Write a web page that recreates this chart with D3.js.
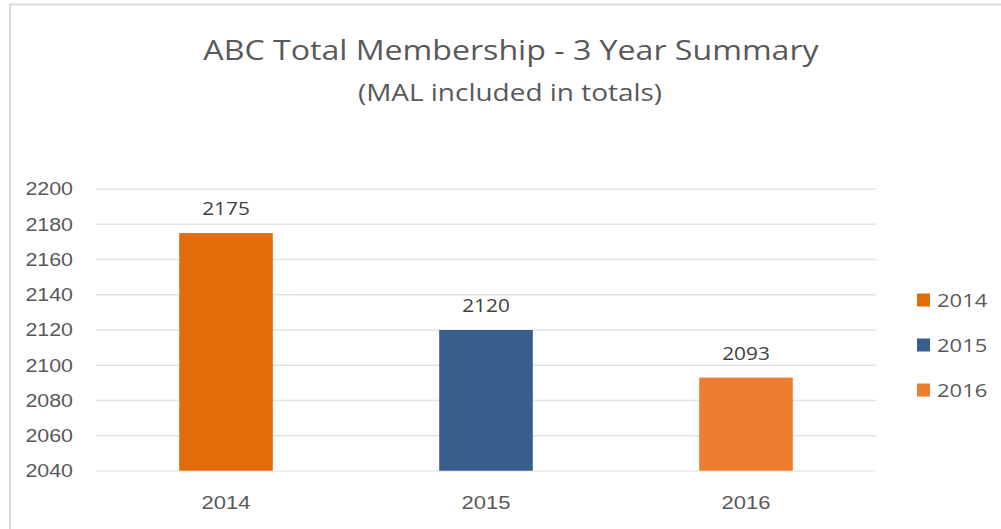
<!DOCTYPE html>
<html>
<head>
<meta charset="utf-8">
<script src="https://cdn.jsdelivr.net/npm/d3@7"></script>
<style>
  body { margin: 0; background: #fff; }
  svg { display: block; font-family: "Open Sans", "Noto Sans", sans-serif; }
</style>
</head>
<body>
<svg id="chart" width="1001" height="529"></svg>
<script>
// chart data
const years = ['2014', '2015', '2016'];
const members = [2175, 2120, 2093];
const yTicks = [2040, 2060, 2080, 2100, 2120, 2140, 2160, 2180, 2200];
const barColors = ['#e36c0a', '#375e8d', '#ed7d31'];

const width = 1001;
const height = 529;
const margin = { left: 96, top: 189, right: 125, bottom: 58 };
const stretch = 1.19; // the source text is a bit wide, stretch it sideways

const svg = d3.select('#chart');

// chart frame
svg.append('path')
  .attr('d', `M10,${height} L10,4.5 L${width},4.5`)
  .attr('fill', 'none')
  .attr('stroke', '#d9d9d9')
  .attr('stroke-width', 2);

// scales
let x = d3.scaleBand()
  .domain(years)
  .range([margin.left, width - margin.right])
  .paddingInner(0.64)
  .paddingOuter(0.32);

let y = d3.scaleLinear()
  .domain([2040, 2200])
  .range([height - margin.bottom, margin.top]);

// gridlines
svg.append('g')
  .selectAll('line')
  .data(yTicks)
  .enter()
  .append('line')
  .attr('x1', margin.left)
  .attr('x2', width - margin.right)
  .attr('y1', d => y(d))
  .attr('y2', d => y(d))
  .attr('stroke', '#e3e3e3')
  .attr('stroke-width', 1.5);

// y axis labels
let yAxis = svg.append('g')
  .attr('transform', `translate(${margin.left - 23},0)`)
  .call(d3.axisLeft(y).tickValues(yTicks).tickFormat(d3.format('d')).tickSize(0).tickPadding(0));
yAxis.select('.domain').remove();
yAxis.selectAll('text')
  .attr('fill', '#595959')
  .attr('transform', `scale(${stretch},1)`)
  .style('font-size', '18px');

// bars
svg.append('g')
  .selectAll('rect')
  .data(members)
  .enter()
  .append('rect')
  .attr('x', (d, i) => x(years[i]))
  .attr('y', d => y(d))
  .attr('width', x.bandwidth())
  .attr('height', d => y(2040) - y(d))
  .attr('fill', (d, i) => barColors[i]);

// baseline drawn over the bars, lightly
svg.append('line')
  .attr('x1', margin.left)
  .attr('x2', width - margin.right)
  .attr('y1', y(2040))
  .attr('y2', y(2040))
  .attr('stroke', '#ffffff')
  .attr('stroke-opacity', 0.25)
  .attr('stroke-width', 2);

// data labels
svg.append('g')
  .selectAll('text')
  .data(members)
  .enter()
  .append('text')
  .attr('transform', (d, i) => `translate(${x(years[i]) + x.bandwidth() / 2},${y(d) - 18}) scale(${stretch},1)`)
  .attr('text-anchor', 'middle')
  .attr('fill', '#404040')
  .style('font-size', '17.5px')
  .text(d => d);

// x axis labels
let xAxis = svg.append('g')
  .attr('transform', `translate(0,${y(2040) + 38})`)
  .call(d3.axisBottom(x).tickSize(0).tickPadding(0));
xAxis.select('.domain').remove();
xAxis.selectAll('text')
  .attr('dy', 0)
  .attr('fill', '#595959')
  .attr('transform', `scale(${stretch},1)`)
  .style('font-size', '18.5px');

// title
svg.append('text')
  .attr('transform', `translate(511,60) scale(${stretch},1)`)
  .attr('text-anchor', 'middle')
  .attr('fill', '#595959')
  .style('font-size', '27px')
  .text('ABC Total Membership - 3 Year Summary');

svg.append('text')
  .attr('transform', `translate(510,101) scale(${stretch},1)`)
  .attr('text-anchor', 'middle')
  .attr('fill', '#595959')
  .style('font-size', '23.5px')
  .text('(MAL included in totals)');

// legend
let legend = svg.append('g')
  .selectAll('g')
  .data(years)
  .enter()
  .append('g')
  .attr('transform', (d, i) => `translate(917,${300 + i * 45})`);

legend.append('rect')
  .attr('x', 0)
  .attr('y', -6.5)
  .attr('width', 13)
  .attr('height', 13)
  .attr('fill', (d, i) => barColors[i]);

legend.append('text')
  .attr('transform', `translate(20,0) scale(${stretch},1)`)
  .attr('dy', '0.36em')
  .attr('fill', '#595959')
  .style('font-size', '18.5px')
  .text(d => d);
</script>
</body>
</html>
